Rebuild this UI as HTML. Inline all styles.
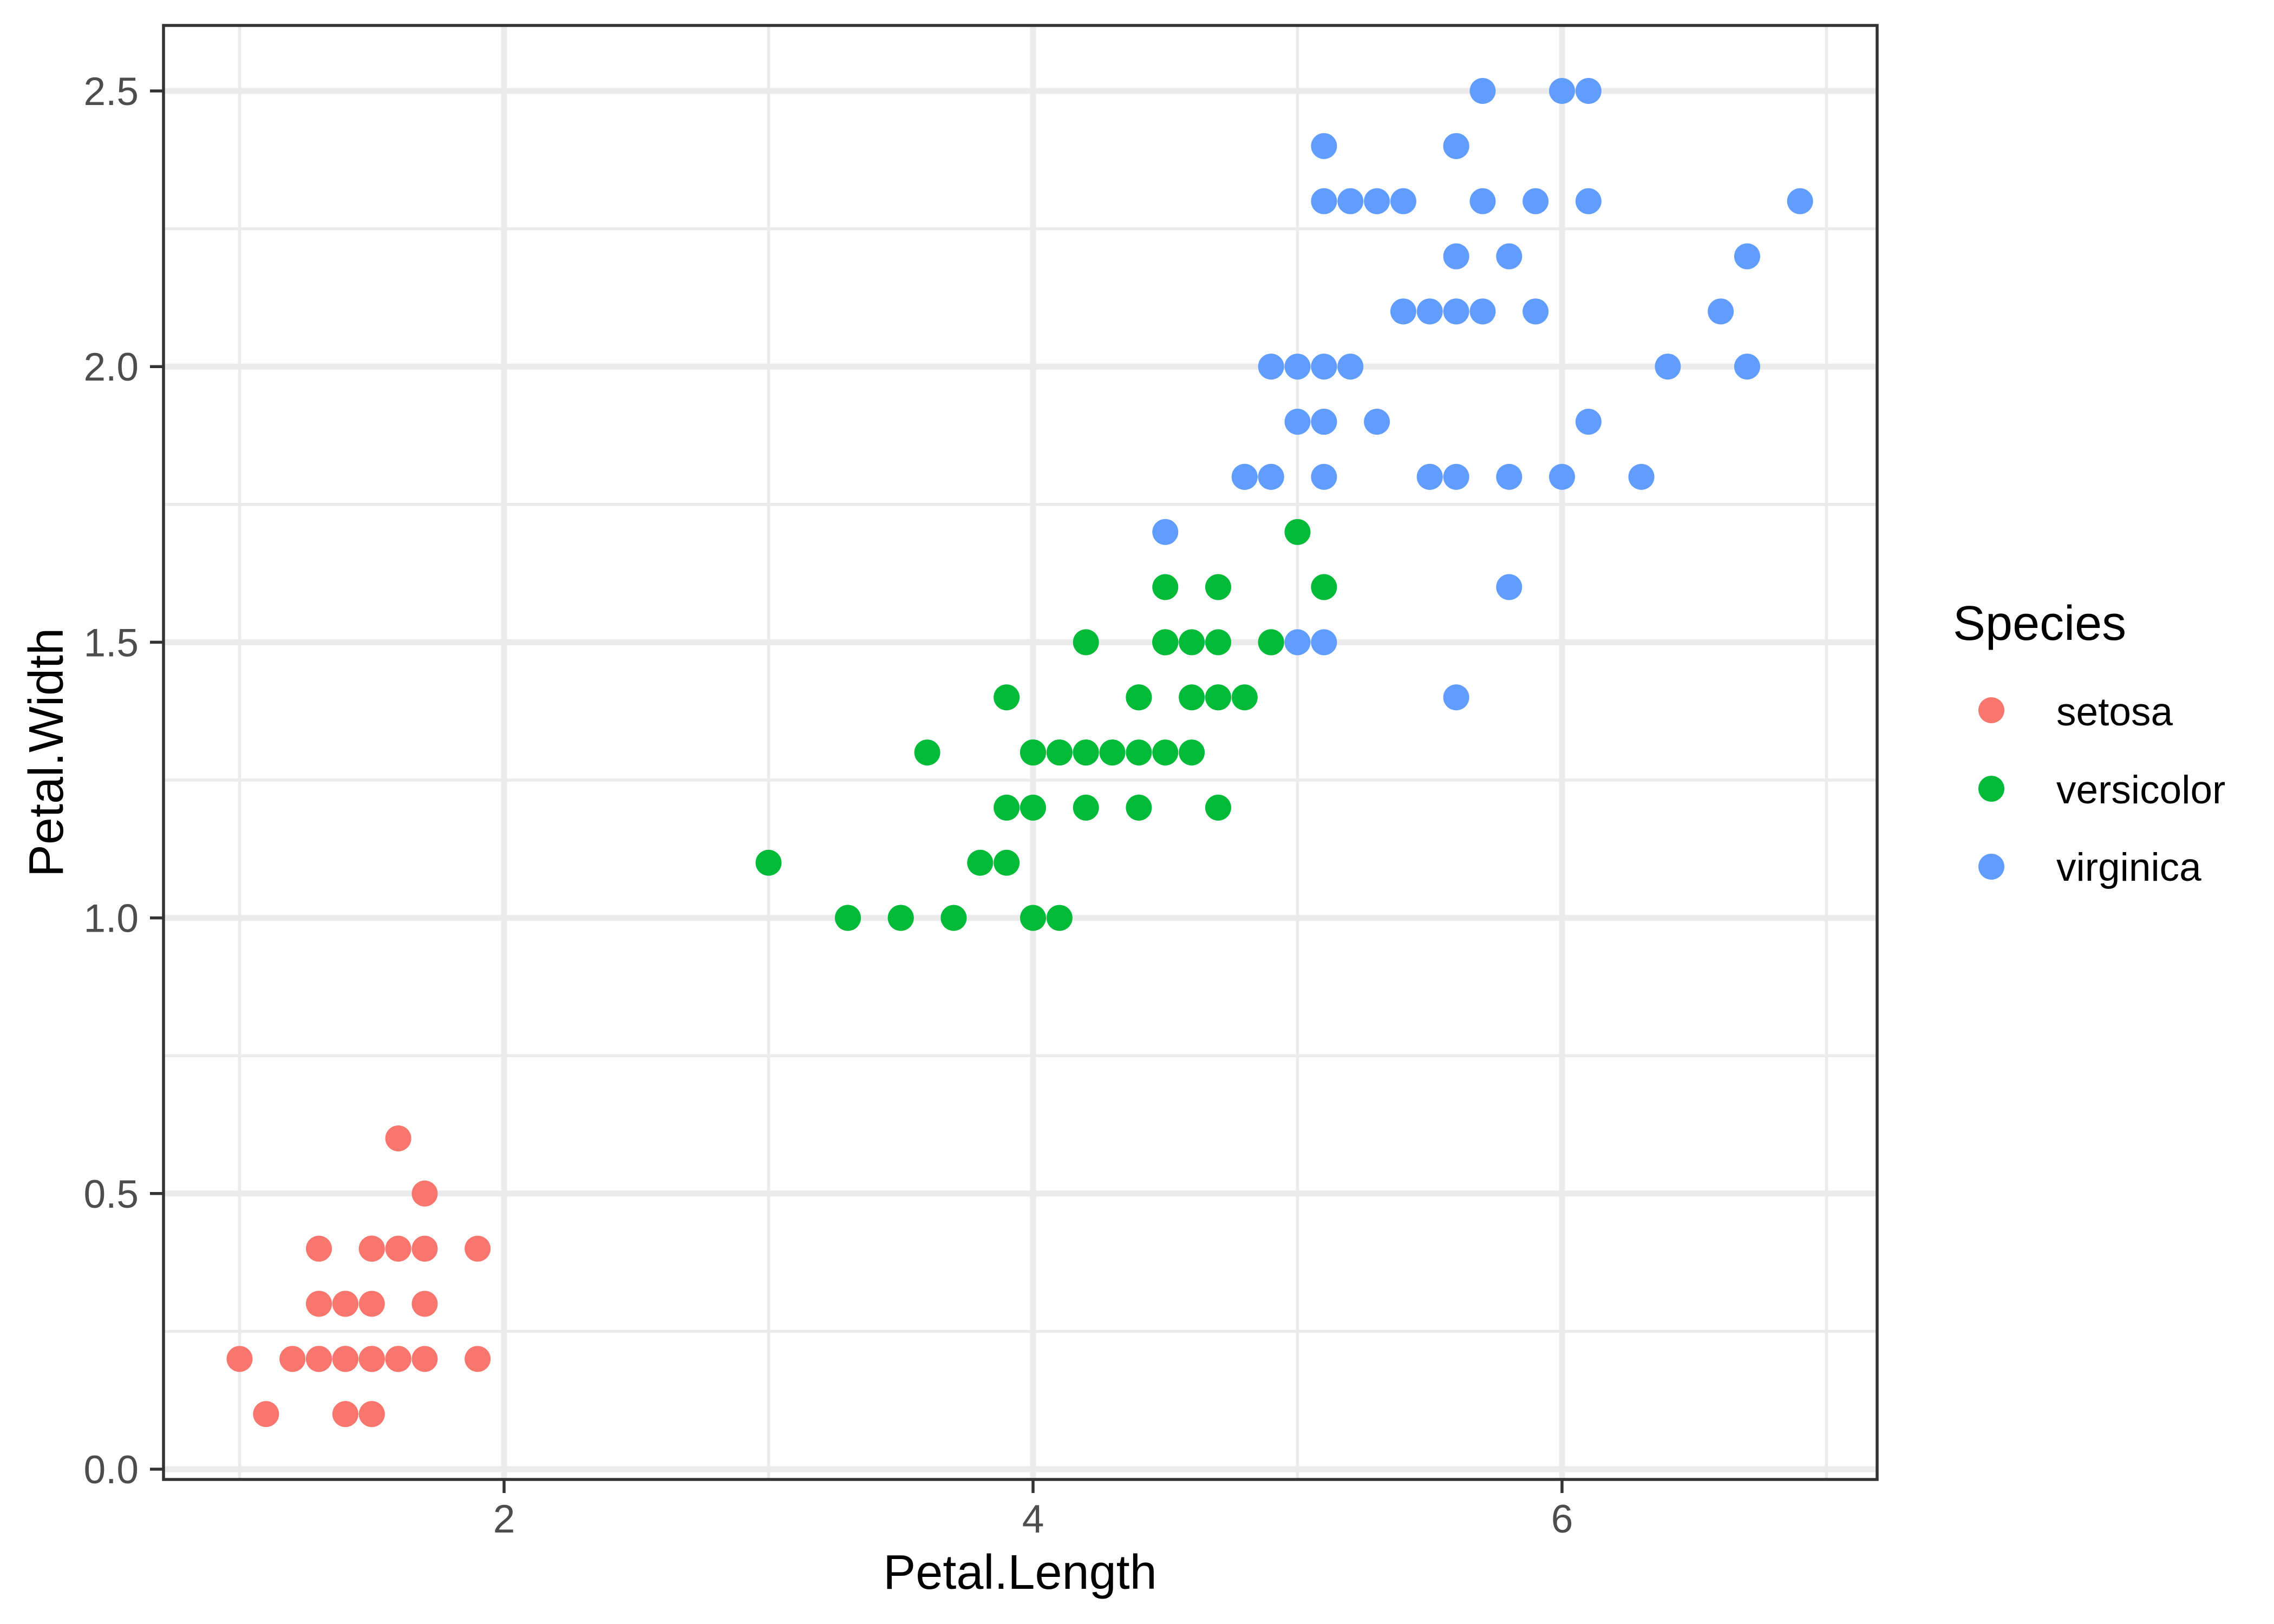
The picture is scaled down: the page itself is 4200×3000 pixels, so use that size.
<!DOCTYPE html>
<html><head><meta charset="utf-8"><style>html,body{margin:0;padding:0;background:#fff}svg{display:block}</style></head>
<body>
<svg id="s" xmlns="http://www.w3.org/2000/svg" width="4200" height="3000" viewBox="0 0 4200 3000" font-family="Liberation Sans, Arial, sans-serif">
<rect width="4200" height="3000" fill="#fff"/>
<g id="grid"></g>
<g id="pts"></g>
<rect x="302" y="47" width="3165" height="2686" fill="none" stroke="#333" stroke-width="5.5"/>
<g id="axes"></g>
<text x="1884" y="2935" font-size="90" text-anchor="middle" fill="#000">Petal.Length</text>
<text transform="translate(116,1390) rotate(-90)" font-size="90" text-anchor="middle" fill="#000">Petal.Width</text>
<text x="3607" y="1182" font-size="90" fill="#000">Species</text>
<circle cx="3678" cy="1312" r="24" fill="#F8766D"/>
<circle cx="3678" cy="1457" r="24" fill="#00BA38"/>
<circle cx="3678" cy="1601" r="24" fill="#619CFF"/>
<text x="3798" y="1340" font-size="73" fill="#000">setosa</text>
<text x="3798" y="1484" font-size="73" fill="#000">versicolor</text>
<text x="3798" y="1627" font-size="73" fill="#000">virginica</text>
</svg>
<script>
var NS="http://www.w3.org/2000/svg";
function X(v){return 931+(v-2)*488.5;}
function Y(v){return 2714-v*1018.4;}
function el(p,t,a,txt){var e=document.createElementNS(NS,t);for(var k in a)e.setAttribute(k,a[k]);if(txt!==undefined)e.textContent=txt;p.appendChild(e);return e;}
var g=document.getElementById('grid'),ax=document.getElementById('axes'),P=document.getElementById('pts');
var L=302,R=3467,T=47,B=2733;
[1,3,5,7].forEach(function(v){el(g,'line',{x1:X(v),x2:X(v),y1:T,y2:B,stroke:'#EBEBEB','stroke-width':5.5});});
[0.25,0.75,1.25,1.75,2.25].forEach(function(v){el(g,'line',{x1:L,x2:R,y1:Y(v),y2:Y(v),stroke:'#EBEBEB','stroke-width':5.5});});
[2,4,6].forEach(function(v){el(g,'line',{x1:X(v),x2:X(v),y1:T,y2:B,stroke:'#EBEBEB','stroke-width':11});
 el(ax,'line',{x1:X(v),x2:X(v),y1:B,y2:B+25,stroke:'#333','stroke-width':5.5});
 el(ax,'text',{x:X(v),y:2831,'font-size':73,'text-anchor':'middle',fill:'#4D4D4D'},String(v));});
[0,0.5,1,1.5,2,2.5].forEach(function(v){el(g,'line',{x1:L,x2:R,y1:Y(v),y2:Y(v),stroke:'#EBEBEB','stroke-width':11});
 el(ax,'line',{x1:L-25,x2:L,y1:Y(v),y2:Y(v),stroke:'#333','stroke-width':5.5});
 el(ax,'text',{x:256,y:Y(v)+26,'font-size':73,'text-anchor':'end',fill:'#4D4D4D'},v.toFixed(1));});
var se="1.4,0.2;1.4,0.2;1.3,0.2;1.5,0.2;1.4,0.2;1.7,0.4;1.4,0.3;1.5,0.2;1.4,0.2;1.5,0.1;1.5,0.2;1.6,0.2;1.4,0.1;1.1,0.1;1.2,0.2;1.5,0.4;1.3,0.4;1.4,0.3;1.7,0.3;1.5,0.3;1.7,0.2;1.5,0.4;1.0,0.2;1.7,0.5;1.9,0.2;1.6,0.2;1.6,0.4;1.5,0.2;1.4,0.2;1.6,0.2;1.6,0.2;1.5,0.4;1.5,0.1;1.4,0.2;1.5,0.2;1.2,0.2;1.3,0.2;1.4,0.1;1.3,0.2;1.5,0.2;1.3,0.3;1.3,0.3;1.3,0.2;1.6,0.6;1.9,0.4;1.4,0.3;1.6,0.2;1.4,0.2;1.5,0.2;1.4,0.2";
var ve="4.7,1.4;4.5,1.5;4.9,1.5;4.0,1.3;4.6,1.5;4.5,1.3;4.7,1.6;3.3,1.0;4.6,1.3;3.9,1.4;3.5,1.0;4.2,1.5;4.0,1.0;4.7,1.4;3.6,1.3;4.4,1.4;4.5,1.5;4.1,1.0;4.5,1.5;3.9,1.1;4.8,1.8;4.0,1.3;4.9,1.5;4.7,1.2;4.3,1.3;4.4,1.4;4.8,1.4;5.0,1.7;4.5,1.5;3.5,1.0;3.8,1.1;3.7,1.0;3.9,1.2;5.1,1.6;4.5,1.5;4.5,1.6;4.7,1.5;4.4,1.3;4.1,1.3;4.0,1.3;4.4,1.2;4.6,1.4;4.0,1.2;3.3,1.0;4.2,1.3;4.2,1.2;4.2,1.3;4.3,1.3;3.0,1.1;4.1,1.3";
var vi="6.0,2.5;5.1,1.9;5.9,2.1;5.6,1.8;5.8,2.2;6.6,2.1;4.5,1.7;6.3,1.8;5.8,1.8;6.1,2.5;5.1,2.0;5.3,1.9;5.5,2.1;5.0,2.0;5.1,2.4;5.3,2.3;5.5,1.8;6.7,2.2;6.9,2.3;5.0,1.5;5.7,2.3;4.9,2.0;6.7,2.0;4.9,1.8;5.7,2.1;6.0,1.8;4.8,1.8;4.9,1.8;5.6,2.1;5.8,1.6;6.1,1.9;6.4,2.0;5.6,2.2;5.1,1.5;5.6,1.4;6.1,2.3;5.6,2.4;5.5,1.8;4.8,1.8;5.4,2.1;5.6,2.4;5.1,2.3;5.1,1.9;5.9,2.3;5.7,2.5;5.2,2.3;5.0,1.9;5.2,2.0;5.4,2.3;5.1,1.8";
[[se,'#F8766D'],[ve,'#00BA38'],[vi,'#619CFF']].forEach(function(d){d[0].split(';').forEach(function(p){var a=p.split(',');el(P,'circle',{cx:X(+a[0]),cy:Y(+a[1]),r:24,fill:d[1]});});});
</script>
</body></html>
